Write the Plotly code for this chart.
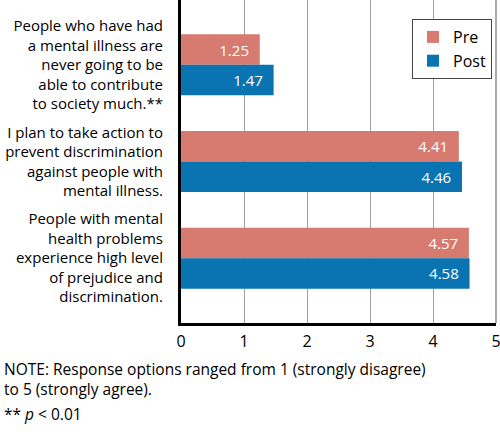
import plotly.graph_objects as go

categories = [
    "People who have had<br>a mental illness are<br>never going to be<br>able to contribute<br>to society much.**",
    "I plan to take action to<br>prevent discrimination<br>against people with<br>mental illness.",
    "People with mental<br>health problems<br>experience high level<br>of prejudice and<br>discrimination.",
]
pre_values = [1.25, 4.41, 4.57]
post_values = [1.47, 4.46, 4.58]
series_names = ["Pre", "Post"]
x_ticks = [0, 1, 2, 3, 4, 5]
note_lines = [
    "NOTE: Response options ranged from 1 (strongly disagree)",
    "to 5 (strongly agree).",
    "** <i>p</i> &lt; 0.01",
]

FONT = "Open Sans"
PRE_COLOR = "#d77b70"
POST_COLOR = "#0a74b3"

# Plot area in pixels
L, R, T, B = 181, 4, 0, 125
W, H = 500, 448
PW = W - L - R
PH = H - T - B

def px(x):
    return (x - L) / PW

def py(y):
    return (H - B - y) / PH

fig = go.Figure()
for name, vals, col in [(series_names[0], pre_values, PRE_COLOR), (series_names[1], post_values, POST_COLOR)]:
    fig.add_trace(go.Bar(
        name=name, y=categories, x=vals, orientation="h",
        marker=dict(color=col, line=dict(width=0)),
        text=[f"{v:.2f}\u00a0\u00a0" for v in vals],
        textposition="inside", insidetextanchor="end",
        textfont=dict(color="white", size=15, family=FONT),
        constraintext="none", cliponaxis=False,
        hoverinfo="skip",
    ))

note_y = [369, 389, 414]
annotations = [
    dict(xref="paper", yref="paper", x=px(2), y=py(yc), xanchor="left", yanchor="middle",
         align="left", showarrow=False, text=t, font=dict(size=15.5, family=FONT))
    for t, yc in zip(note_lines, note_y)
]

fig.update_layout(
    width=W, height=H,
    margin=dict(l=L, r=R, t=T, b=B, pad=0, autoexpand=False),
    paper_bgcolor="white", plot_bgcolor="white",
    barmode="group", bargap=0.37, bargroupgap=0,
    font=dict(family=FONT, size=16, color="black"),
    showlegend=True,
    legend=dict(
        x=px(412), y=py(19), xanchor="left", yanchor="top",
        bordercolor="#444", borderwidth=1, bgcolor="white",
        font=dict(size=16, family=FONT), traceorder="normal",
        itemwidth=30, tracegroupgap=0,
    ),
    xaxis=dict(
        range=[0, 5], tickvals=x_ticks, ticktext=[str(t) for t in x_ticks],
        showgrid=True, gridcolor="#a0a0a0", gridwidth=1,
        showline=True, linecolor="black", linewidth=3,
        zeroline=False, ticks="", tickfont=dict(size=16),
        ticklabelstandoff=2, ticklabeloverflow="allow", automargin=False,
    ),
    yaxis=dict(
        range=[2.67, -0.67], showgrid=False,
        showline=True, linecolor="black", linewidth=3,
        ticks="", tickfont=dict(size=15, color="black"),
        ticklabelstandoff=12, automargin=False,
    ),
    shapes=[
        dict(type="line", xref="paper", yref="paper", x0=1, x1=1, y0=0, y1=1,
             line=dict(color="#555", width=1)),
    ],
    annotations=annotations,
)

fig.write_html(
    "out.html",
    config={"displayModeBar": False, "staticPlot": True},
    post_script="document.body.style.margin='0';document.body.style.padding='0';",
)
